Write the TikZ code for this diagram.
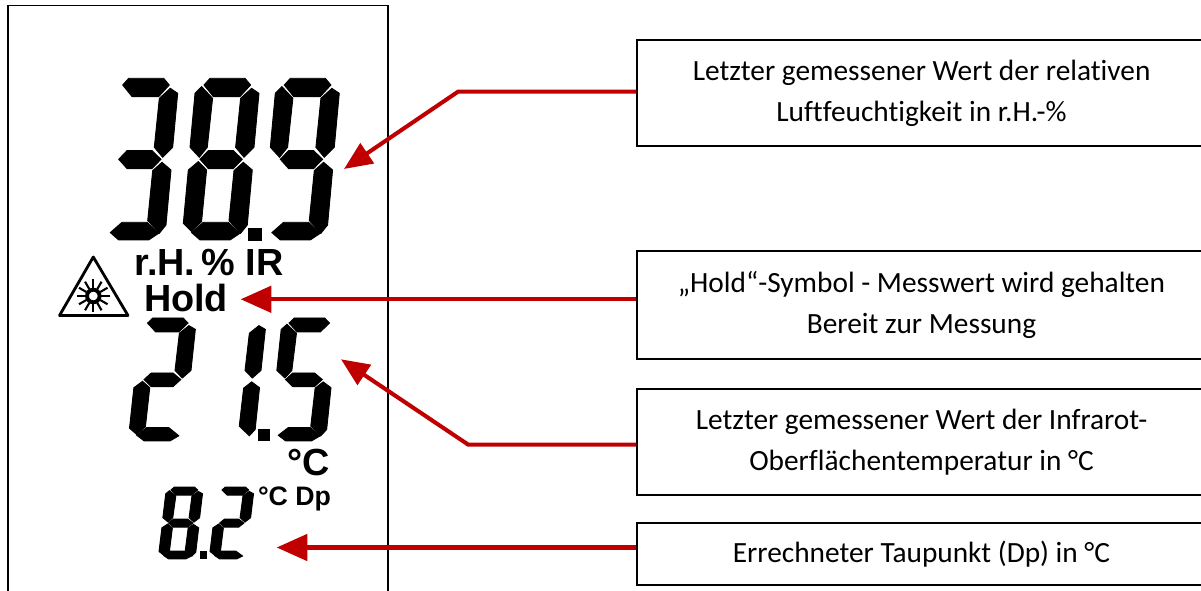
\documentclass[tikz,border=0pt]{standalone}
\usepackage{fontspec}
\usepackage{tikz}
\usetikzlibrary{arrows.meta}
\setmainfont{Carlito}[Ligatures=NoCommon]
\newfontfamily\lcdfont{Liberation Sans}[BoldFont={Liberation Sans Bold}]
\definecolor{pfeilrot}{HTML}{C00000}
\tikzset{
  infobox/.style={draw=black,line width=0.8pt,minimum width=569*0.02cm,align=center,font=\fontsize{16.7pt}{23.5pt}\selectfont,inner sep=0pt},
  lcdtext/.style={font=\lcdfont\bfseries\fontsize{21.5pt}{21.5pt}\selectfont,anchor=base,inner sep=0pt},
  lcdsmall/.style={font=\lcdfont\bfseries\fontsize{15.2pt}{15.2pt}\selectfont,anchor=base,inner sep=0pt},
  lcd/.style={fill=black,draw=black,line width=0.5pt},
  pfeil/.style={draw=pfeilrot,line width=2.3pt,-{Triangle[length=17.5pt,width=15pt]}},
  pfeilschraeg/.style={draw=pfeilrot,line width=2.3pt,-{Triangle[length=16pt,width=13.5pt]}},
}
\newcommand{\segA}{\filldraw[lcd] (20.7,6.7)--(26.7,0)--(61.7,0)--(67.3,6.7)--(56.7,18.3)--(30,18.3)--cycle;}
\newcommand{\segB}{\filldraw[lcd] (68.3,10)--(75.7,15)--(70.7,69)--(60.7,79)--(52.3,69)--(57.3,20)--cycle;}
\newcommand{\segC}{\filldraw[lcd] (60,84)--(69,91.7)--(64,146.7)--(57.3,155)--(45.7,142.3)--(50.7,92.3)--cycle;}
\newcommand{\segD}{\filldraw[lcd] (8.3,154.3)--(20,144)--(45,144)--(56.7,155)--(46.7,161.7)--(16.7,161.7)--cycle;}
\newcommand{\segE}{\filldraw[lcd] (15,83.3)--(23.3,91.7)--(18.3,143.3)--(8.3,153.3)--(0,145)--(5,91.7)--cycle;}
\newcommand{\segF}{\filldraw[lcd] (18.3,8.3)--(29.3,20)--(24,69)--(16,79)--(6.7,69)--(11.7,15)--cycle;}
\newcommand{\segG}{\filldraw[lcd] (16.7,81)--(25,72.3)--(50,72.3)--(59,81)--(50,90.3)--(25,90.3)--cycle;}
\begin{document}
\begin{tikzpicture}[x=0.02cm,y=-0.02cm]
\useasboundingbox (0,0) rectangle (1201,591);
\draw[line width=0.8pt] (8,591)--(8,5.5)--(388,5.5)--(388,591);

\begin{scope}[shift={(102,78.3)}]\segA\segB\segC\segD\segG\end{scope}
\begin{scope}[shift={(183.3,78.3)}]\segA\segB\segC\segD\segE\segF\segG\end{scope}
\begin{scope}[shift={(263.6,78.3)}]\segA\segB\segC\segD\segF\segG\end{scope}
\fill (248,228) rectangle (262,241);

\node[lcdtext] (rh) at (209,276) {r.H.\,\% IR};
\node[lcdtext] (hold) at (186,311.7) {Hold};
\draw[line width=1.6pt,line join=round] (93.3,257)--(59.5,315.5)--(128,315.5)--cycle;
\draw[line width=2.2pt] (93.3,296) circle (6.3);
\foreach \w in {0,30,...,330}{\draw[line width=1.2pt] (93.3,296)+(\w:8)--+(\w:16.5);}

\begin{scope}[shift={(129.5,318)},xscale=0.87,yscale=0.76]\segA\segB\segD\segE\segG\end{scope}
\begin{scope}[shift={(199.5,318)},xscale=0.87,yscale=0.76]\segB\segC\end{scope}
\begin{scope}[shift={(271,318)},xscale=0.87,yscale=0.76]\segA\segC\segD\segF\segG\end{scope}
\fill (258,429) rectangle (270,441);

\node[lcdtext] (gradc) at (309,476) {°C};
\begin{scope}[shift={(159,487)},xscale=0.575,yscale=0.445]\segA\segB\segC\segD\segE\segF\segG\end{scope}
\begin{scope}[shift={(210,487)},xscale=0.575,yscale=0.445]\segA\segB\segD\segE\segG\end{scope}
\fill (200,551) rectangle (207,559);
\node[lcdsmall] (gradcdp) at (294.5,505) {°C Dp};

\node[infobox,minimum height=106*0.02cm] (feuchte) at (921.5,93) {\strut Letzter gemessener Wert der relativen\\\strut Luftfeuchtigkeit in r.H.-\%};
\node[infobox,minimum height=108*0.02cm] (symbol) at (921.5,305) {\strut „Hold“-Symbol - Messwert wird gehalten\\\strut Bereit zur Messung};
\node[infobox,minimum height=106*0.02cm] (temp) at (921.5,442) {\strut Letzter gemessener Wert der Infrarot-\\\strut Oberflächentemperatur in °C};
\node[infobox,minimum height=62*0.02cm] (taupunkt) at (921.5,554) {\strut Errechneter Taupunkt (Dp) in °C};

\coordinate (knick1) at (458,91.7);
\coordinate (spitze1) at (344,169);
\coordinate (spitze2) at (240.7,299.3);
\coordinate (knick3) at (468.3,444.7);
\coordinate (spitze3) at (341,359.3);
\coordinate (spitze4) at (276.7,547.5);
\draw[pfeilschraeg] (feuchte.west|-knick1)--(knick1)--(spitze1);
\draw[pfeil] (symbol.west|-spitze2)--(spitze2);
\draw[pfeilschraeg] (temp.west|-knick3)--(knick3)--(spitze3);
\draw[pfeil] (taupunkt.west|-spitze4)--(spitze4);
\end{tikzpicture}
\end{document}
